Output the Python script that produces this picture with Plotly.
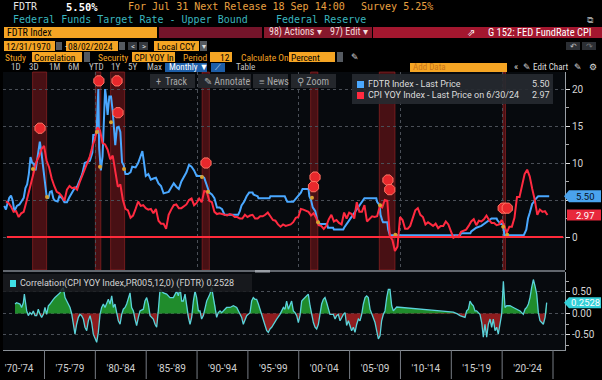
import plotly.graph_objects as go
import numpy as np

# ---------------- DATA ----------------
fdtr_dates = [
    '1971-01','1971-03','1971-05','1971-07','1971-09','1971-11',
    '1972-01','1972-04','1972-07','1972-10','1972-12',
    '1973-02','1973-04','1973-06','1973-08','1973-10','1973-12',
    '1974-02','1974-04','1974-06','1974-07','1974-09','1974-11',
    '1975-01','1975-03','1975-05','1975-07','1975-09','1975-11',
    '1976-01','1976-04','1976-06','1976-09','1976-12',
    '1977-03','1977-06','1977-09','1977-12',
    '1978-03','1978-06','1978-09','1978-12',
    '1979-03','1979-06','1979-09','1979-10','1979-12',
    '1980-02','1980-03','1980-04','1980-05','1980-07','1980-09','1980-11','1980-12',
    '1981-01','1981-03','1981-05','1981-07','1981-09','1981-11','1981-12',
    '1982-02','1982-04','1982-06','1982-07','1982-08','1982-10','1982-12',
    '1983-03','1983-06','1983-08','1983-12',
    '1984-03','1984-06','1984-08','1984-10','1984-12',
    '1985-03','1985-06','1985-09','1985-12',
    '1986-03','1986-06','1986-09','1986-12',
    '1987-03','1987-06','1987-09','1987-12',
    '1988-03','1988-06','1988-09','1988-12',
    '1989-03','1989-06','1989-09','1989-12',
    '1990-06','1990-09','1990-12',
    '1991-03','1991-06','1991-09','1991-12',
    '1992-03','1992-06','1992-09',
    '1994-01','1994-03','1994-05','1994-08','1994-11',
    '1995-02','1995-06','1995-07','1995-12',
    '1996-01','1997-02','1997-03',
    '1998-08','1998-10','1998-11',
    '1999-06','1999-08','1999-11',
    '2000-02','2000-03','2000-05','2000-12',
    '2001-01','2001-03','2001-05','2001-08','2001-10','2001-12',
    '2002-10','2002-11','2003-05','2003-06','2004-05',
    '2004-06','2004-12','2005-06','2005-12','2006-06',
    '2007-08','2007-09','2007-12','2008-01','2008-03','2008-04',
    '2008-09','2008-10','2008-12',
    '2015-11','2015-12','2016-11','2016-12','2017-03','2017-06','2017-12',
    '2018-03','2018-06','2018-09','2018-12','2019-06','2019-07','2019-09','2019-10','2020-02','2020-03',
    '2022-02','2022-03','2022-05','2022-06','2022-07','2022-09','2022-11','2022-12','2023-02','2023-03','2023-05','2023-07','2024-08']
fdtr_vals = [
    4.2,3.7,4.6,5.3,5.6,4.9,
    3.5,4.2,4.4,5.0,5.3,
    6.6,7.1,8.5,10.8,10.0,9.9,
    9.0,10.5,11.9,12.9,11.3,9.5,
    7.1,5.5,5.2,6.1,6.2,5.2,
    4.9,4.8,5.5,5.3,4.7,
    4.7,5.4,6.1,6.6,
    6.8,7.6,8.5,10.0,
    10.1,10.3,11.4,13.8,13.8,
    14.1,17.2,20.0,12.0,9.0,10.9,15.9,20.0,
    19.1,16.5,19.0,19.0,17.0,13.3,12.4,
    14.8,14.9,14.2,12.6,10.1,9.7,8.5,
    8.5,8.75,9.5,9.4,
    10.0,11.0,11.6,10.0,8.25,
    8.5,7.75,7.9,8.0,
    7.25,6.9,5.9,6.0,
    6.1,6.7,7.25,6.8,
    6.5,7.5,8.1,8.75,
    9.75,9.5,9.0,8.25,
    8.25,8.0,7.0,
    6.0,5.75,5.25,4.0,
    4.0,3.75,3.0,
    3.0,3.5,4.25,4.75,5.5,
    6.0,6.0,5.75,5.5,
    5.25,5.25,5.5,
    5.5,5.0,4.75,
    4.75,5.0,5.5,
    5.75,6.0,6.5,6.5,
    5.5,5.0,4.0,3.5,2.5,1.75,
    1.75,1.25,1.25,1.0,1.0,
    1.25,2.25,3.25,4.25,5.25,
    5.25,4.75,4.25,3.0,2.25,2.0,
    2.0,1.0,0.25,
    0.25,0.5,0.5,0.75,1.0,1.25,1.5,
    1.75,2.0,2.25,2.5,2.5,2.25,2.0,1.75,1.75,0.25,
    0.25,0.5,1.0,1.75,2.5,3.25,4.0,4.5,4.75,5.0,5.25,5.5,5.5]

cpi_first_year = 1971  # quarterly readings, Q1 1971 .. Q2 2024
cpi_vals = [
    4.8,4.6,4.1,3.4,  3.5,2.7,3.2,3.4,  4.7,6.0,7.4,8.7,  10.2,10.9,11.9,12.3,
    10.3,9.4,7.9,6.9,  6.1,5.9,5.5,4.9,  6.4,6.9,6.6,6.7,  6.4,7.4,8.3,9.0,
    10.1,10.9,12.2,13.3,  14.8,14.4,12.7,12.5,  11.8,10.5,11.0,8.9,  6.8,7.1,5.0,3.8,
    3.6,2.6,2.9,3.8,  4.8,4.2,4.3,3.9,  3.7,3.8,3.2,3.8,  2.2,1.8,1.8,1.1,
    3.0,3.7,4.3,4.4,  3.9,3.9,4.2,4.4,  5.0,5.2,4.3,4.6,  5.2,4.7,6.2,6.1,
    4.9,4.7,3.4,3.1,  3.2,3.1,3.0,2.9,  3.1,3.0,2.7,2.7,  2.5,2.5,3.0,2.7,
    2.9,3.0,2.5,2.5,  2.8,2.8,3.0,3.3,  2.8,2.3,2.2,1.7,  1.4,1.7,1.5,1.6,
    1.7,2.0,2.6,2.7,  3.8,3.7,3.5,3.4,  2.9,3.2,2.6,1.6,  1.5,1.1,1.5,2.4,
    3.0,2.1,2.3,1.9,  1.7,3.3,2.5,3.3,  3.1,2.5,4.7,3.4,  3.4,4.3,2.1,2.5,
    2.8,2.7,2.8,4.1,  4.0,5.0,4.9,0.1,  -0.4,-1.9,-1.3,2.7,  2.3,1.1,1.1,1.5,
    2.7,3.6,3.9,3.0,  2.7,1.7,2.0,1.7,  1.5,1.8,1.2,1.5,  1.5,2.1,1.7,0.8,
    -0.1,0.1,0.0,0.7,  0.9,1.0,1.5,2.1,  2.4,1.6,2.2,2.1,  2.4,2.9,2.3,1.9,
    1.9,1.6,1.7,2.3,  1.5,0.6,1.4,1.4,  2.6,5.4,5.4,7.0,  8.5,9.1,8.2,6.5,
    5.0,3.0,3.7,3.4,  3.5,2.97]

corr_years = [
    1972.10,1972.26,1972.59,1972.75,1972.92,1973.02,1973.25,1973.41,1973.57,1973.74,
    1973.90,1974.07,1974.23,1974.39,1974.56,1974.72,1974.89,1975.05,1975.21,1975.38,
    1975.54,1975.71,1975.87,1976.03,1976.20,1976.36,1976.52,1976.69,1976.85,1977.02,
    1977.18,1977.51,1977.67,1977.84,1978.00,1978.16,1978.33,1978.49,1978.65,1978.82,
    1978.98,1979.15,1979.31,1979.48,1979.64,1979.80,1979.97,1980.13,1980.29,1980.46,
    1980.62,1980.79,1980.95,1981.11,1981.28,1981.44,1981.61,1981.77,1981.93,1982.10,
    1982.26,1982.43,1982.59,1982.75,1982.92,1983.08,1983.24,1983.41,1983.57,1983.74,
    1983.90,1984.06,1984.23,1984.39,1984.72,1984.88,1985.05,1985.21,1985.38,1985.54,
    1985.70,1985.87,1986.03,1986.19,1986.36,1986.52,1986.69,1987.01,1987.34,1987.67,
    1988.00,1988.16,1988.33,1988.49,1988.65,1988.82,1988.98,1989.15,1989.31,1989.47,
    1989.64,1989.80,1989.96,1990.13,
    1990.29,1990.45,1990.62,1990.78,1990.95,1991.11,1991.27,1991.44,1991.60,1991.77,
    1991.93,1992.09,1992.26,1992.42,1992.58,1992.91,1993.24,1993.57,1993.90,1994.06,
    1994.22,1994.39,1994.55,1994.72,1994.88,1995.04,1995.21,1995.37,1995.53,1995.70,
    1995.86,1996.03,1996.19,1996.35,1996.52,1996.68,1996.85,1997.01,1997.17,1997.34,
    1997.50,1997.67,1997.83,1998.16,1998.32,1998.49,1998.65,1998.81,1998.98,1999.14,
    1999.30,1999.47,1999.63,1999.80,1999.96,2000.12,2000.29,2000.45,2000.62,2000.78,
    2000.94,2001.11,2001.27,2001.44,2001.60,2001.76,2001.93,2002.09,2002.25,2002.42,
    2002.58,2002.75,2002.91,2003.07,2003.40,2003.57,2003.73,2003.89,2004.06,2004.22,
    2004.39,2004.55,2004.71,2004.88,2005.04,2005.20,2005.37,2005.53,2005.70,2005.86,
    2006.02,2006.19,2006.35,2006.52,2006.68,2006.84,2007.01,2007.17,2007.34,2007.50,
    2007.66,2007.83,2007.99,2008.15,2008.32,2008.48,2008.65,2008.81,2008.97,2009.14,
    2009.30,2009.63,2013.89,2015.20,2015.60,2015.86,2016.35,2016.51,2016.68,2016.84,
    2017.00,2017.17,2017.33,2017.49,2017.66,2017.82,2017.99,2018.15,2018.31,2018.48,
    2018.64,2018.81,2018.97,2019.13,2019.30,2019.46,2019.62,2019.79,2019.95,2020.12,
    2020.28,2020.45,2020.77,2021.10,2021.43,2021.76,2021.92,2022.08,2022.25,2022.41,
    2022.58,2022.74,2022.90,2023.07,2023.23,2023.40,2023.56,2023.72,2023.89,2024.05,
    2024.22,2024.38]
corr_vals = [
    0.22,0.25,0.22,0.14,0.25,0.45,0.06,-0.05,0.02,-0.02,
    0.06,-0.05,-0.05,0.10,-0.02,-0.09,-0.02,0.14,-0.02,0.18,
    0.22,0.29,0.33,0.37,0.41,0.45,0.48,0.56,0.60,0.37,
    0.29,0.14,0.00,-0.25,-0.48,-0.25,-0.09,-0.02,-0.05,-0.13,
    -0.32,-0.40,-0.17,-0.05,-0.21,-0.48,-0.59,-0.67,-0.44,-0.02,
    0.14,0.22,0.14,0.25,0.33,0.22,0.41,0.14,0.22,0.02,
    -0.17,-0.25,-0.02,0.10,0.14,0.22,0.37,0.48,0.14,0.06,
    -0.13,-0.28,-0.09,0.06,0.10,0.29,0.37,0.22,-0.05,-0.09,
    -0.13,-0.25,-0.32,0.06,0.56,0.52,0.48,0.45,0.37,0.37,
    0.52,0.41,0.60,0.29,0.29,0.45,0.18,-0.09,-0.25,-0.09,
    0.29,0.52,0.37,0.06,
    0.06,-0.13,-0.05,0.14,0.29,0.37,0.45,0.60,0.37,0.22,
    -0.09,0.02,0.06,0.02,0.06,0.14,0.14,0.18,0.14,0.06,
    -0.02,-0.09,-0.25,-0.13,-0.05,-0.02,0.02,0.29,0.37,0.33,
    0.33,0.22,0.10,-0.02,-0.13,-0.28,-0.40,-0.44,-0.36,-0.32,
    -0.25,-0.21,-0.13,-0.02,0.06,0.14,0.10,0.29,0.10,0.22,
    0.29,0.06,0.02,-0.05,-0.21,-0.05,0.29,0.33,0.37,0.41,
    0.45,0.18,-0.05,-0.21,-0.32,-0.36,-0.25,0.02,0.22,0.33,
    0.37,0.25,0.10,-0.02,-0.02,-0.13,-0.05,-0.02,-0.17,-0.09,
    -0.02,0.02,-0.28,-0.17,-0.28,-0.40,-0.32,-0.44,-0.25,-0.13,
    -0.17,-0.02,0.22,0.37,0.41,0.37,0.10,-0.02,-0.09,-0.21,
    -0.40,-0.59,-0.52,-0.17,-0.02,0.06,0.37,0.56,0.56,0.18,
    0.06,0.15,0.06,0.03,-0.01,-0.05,-0.09,0.06,0.10,0.29,
    0.22,0.18,0.06,0.06,0.02,-0.02,-0.21,-0.55,-0.25,-0.55,
    -0.25,-0.13,-0.32,-0.13,-0.40,-0.32,-0.48,-0.25,-0.02,0.75,
    0.14,0.18,0.18,0.14,0.10,0.06,0.02,-0.02,0.10,0.14,
    0.22,0.37,0.60,0.79,0.64,0.45,0.02,-0.17,-0.21,-0.25,
    -0.09,0.2528]

rec_start = [1973.83, 1980.00, 1981.50, 1990.50, 2001.17, 2007.92, 2020.08]
rec_end   = [1975.21, 1980.54, 1982.88, 1991.21, 2001.88, 2009.46, 2020.33]

event_years = [1974.56, 1980.35, 1982.13, 1982.23, 1990.88, 2001.60, 2001.45, 2008.77, 2008.95, 2020.10, 2020.50]
event_vals  = [14.7, 21.1, 21.1, 16.8, 10.0, 8.1, 6.8, 7.7, 6.4, 3.9, 3.9]
anchor_years = [1973.87, 1975.25, 1980.15, 1980.46, 1981.54, 1982.82, 1990.48, 1991.08, 2001.3, 2001.9, 2008.0, 2009.5, 2020.1, 2020.5]
anchor_vals  = [9.2, 5.4, 14.2, 9.5, 15.5, 9.2, 8.1, 6.1, 5.3, 2.0, 4.3, 0.3, 1.4, 0.3]

period_ticks = [1972.5, 1977.5, 1982.5, 1987.5, 1992.5, 1997.5, 2002.5, 2007.5, 2012.5, 2017.5, 2022.5]
period_labels = ["'70-'74", "'75-'79", "'80-'84", "'85-'89", "'90-'94", "'95-'99",
                 "'00-'04", "'05-'09", "'10-'14", "'15-'19", "'20-'24"]
period_bounds = [1975, 1980, 1985, 1990, 1995, 2000, 2005, 2010, 2015, 2020, 2025]

# ---------------- HELPERS ----------------
W, H = 602, 380
SANS = 'Roboto'
NARROW = 'Liberation Sans Narrow, Roboto Condensed, Roboto'
MONO = 'DejaVu Sans Mono'
ORANGE = '#f5a524'
BLUE = '#4aa8ff'
RED = '#ff2a40'
CYAN = '#5ad3da'

def px(x): return x / W
def py(y): return 1 - y / H

shapes, annotations = [], []

def box(x0, y0, x1, y1, color, layer='above'):
    shapes.append(dict(type='rect', xref='paper', yref='paper', x0=px(x0), x1=px(x1),
                       y0=py(y1), y1=py(y0), fillcolor=color, line=dict(width=0), layer=layer))

def txt(x, y, s, color, size=9.5, family=SANS, anchor='left'):
    annotations.append(dict(xref='paper', yref='paper', x=px(x), y=py(y), text=s, showarrow=False,
                            xanchor=anchor, yanchor='middle', borderpad=0,
                            font=dict(color=color, size=size, family=family)))

def ym(v):  # decimal year from 'YYYY-MM'
    y, m = v.split('-')
    return int(y) + (int(m) - 0.5) / 12

fdtr_x = [ym(d) for d in fdtr_dates]
cpi_x = [cpi_first_year + i // 4 + ((i % 4) * 3 + 2.5) / 12 for i in range(len(cpi_vals))]
cv = np.array(corr_vals)

XR = [1970.92, 2026.18]
MAIN_DOM = [py(270), py(72)]
LOW_DOM = [py(350), py(272)]

fig = go.Figure()

# main panel
fig.add_trace(go.Scatter(x=fdtr_x, y=fdtr_vals, mode='lines', line=dict(color=BLUE, width=2),
                         xaxis='x', yaxis='y', hoverinfo='skip', showlegend=False))
fig.add_trace(go.Scatter(x=cpi_x, y=cpi_vals, mode='lines', line=dict(color=RED, width=2),
                         xaxis='x', yaxis='y', hoverinfo='skip', showlegend=False))
fig.add_trace(go.Scatter(x=anchor_years, y=anchor_vals, mode='markers',
                         marker=dict(color='#d9a030', size=4), xaxis='x', yaxis='y',
                         hoverinfo='skip', showlegend=False))
fig.add_trace(go.Scatter(x=event_years, y=event_vals, mode='markers', cliponaxis=False,
                         marker=dict(symbol='octagon', color='#e8282c', size=11,
                                     line=dict(color='#ff7464', width=1)),
                         xaxis='x', yaxis='y', hoverinfo='skip', showlegend=False))

# lower panel
fig.add_trace(go.Scatter(x=corr_years, y=np.maximum(cv, 0), mode='lines', fill='tozeroy',
                         fillcolor='#208c2c', line=dict(width=0), xaxis='x2', yaxis='y2',
                         hoverinfo='skip', showlegend=False))
fig.add_trace(go.Scatter(x=corr_years, y=np.minimum(cv, 0), mode='lines', fill='tozeroy',
                         fillcolor='#8e1c1e', line=dict(width=0), xaxis='x2', yaxis='y2',
                         hoverinfo='skip', showlegend=False))
fig.add_trace(go.Scatter(x=corr_years, y=corr_vals, mode='lines', line=dict(color=CYAN, width=1.3),
                         xaxis='x2', yaxis='y2', hoverinfo='skip', showlegend=False))

# recession bars
for a, b in zip(rec_start, rec_end):
    shapes.append(dict(type='rect', xref='x', yref='paper', x0=a, x1=b, y0=MAIN_DOM[0], y1=MAIN_DOM[1],
                       fillcolor='rgba(125,22,26,0.55)', line=dict(color='rgba(170,40,40,0.55)', width=1),
                       layer='below'))
# zero reference line
shapes.append(dict(type='line', xref='x', yref='y', x0=1971.3, x1=2026.0, y0=0, y1=0,
                   line=dict(color='#ff2a3a', width=2), layer='above'))
# x separators
for b in period_bounds:
    shapes.append(dict(type='line', xref='x2', yref='paper', x0=b, x1=b, y0=py(379), y1=py(350),
                       line=dict(color='#777c84', width=1)))
# panel divider
shapes.append(dict(type='line', xref='paper', yref='paper', x0=px(3), x1=px(565), y0=py(271), y1=py(271),
                   line=dict(color='#62676e', width=2)))
box(255, 270, 270, 272.5, '#9a9fa6')

# ---------- header ----------
txt(12, 7, 'FDTR', '#e6e6e6', 10, MONO)
txt(65, 7, '<b>5.50%</b>', '#ffffff', 10.5, MONO)
txt(127, 7, 'For Jul 31 Next Release 18 Sep 14:00', '#e9a040', 10, MONO)
txt(360, 7, 'Survey 5.25%', '#e9a040', 10, MONO)
txt(12, 20, 'Federal Funds Target Rate - Upper Bound', '#3ab5be', 10, MONO)
txt(275, 20, 'Federal Reserve', '#3ab5be', 10, MONO)
txt(595, 20, '⧉', '#9a9a9a', 9, SANS, 'right')

box(4, 27, 157, 38, ORANGE)
txt(6, 32.5, 'FDTR Index', '#000000', 10, NARROW)
box(159, 27, 262, 38, '#74142a')
box(264, 27, 372, 38, '#86182c')
box(373, 27, 602, 38, '#a3172f')
txt(268, 32.5, '98) Actions ▾', '#f3dcdc', 10, NARROW)
txt(329, 32.5, '97) Edit ▾', '#f3dcdc', 10, NARROW)
txt(466, 32.5, '⇗', '#ffffff', 9.5)
txt(592, 32.5, 'G 152: FED FundRate CPI', '#ffffff', 10.5, NARROW, 'right')

box(4, 41, 55, 51, ORANGE); txt(5, 46, '12/31/1970', '#000000', 9.5, NARROW)
box(56, 42, 62, 50, '#555a60'); txt(63.5, 46, '-', '#dddddd', 9)
box(66, 41, 118, 51, ORANGE); txt(67, 46, '08/02/2024', '#000000', 9.5, NARROW)
box(119, 42, 125, 50, '#555a60')
box(128, 42, 137, 50, '#34383e'); txt(132.5, 46, '<', '#dddddd', 8, SANS, 'center')
box(139, 42, 148, 50, '#34383e'); txt(143.5, 46, '>', '#dddddd', 8, SANS, 'center')
box(154, 41, 199, 51, ORANGE); txt(156, 46, 'Local CCY', '#000000', 9.5, NARROW)
box(200, 41, 207, 51, '#555a60'); txt(203.5, 46, '▾', '#dddddd', 8, SANS, 'center')
box(566, 42, 580, 50, '#2c2f34'); txt(573, 46, '↶', '#bbbbbb', 8, SANS, 'center')
box(582, 42, 596, 50, '#2c2f34'); txt(589, 46, '↷', '#777777', 8, SANS, 'center')

txt(4, 57, 'Study', ORANGE, 9.5, NARROW)
box(32, 52, 82, 62, ORANGE); txt(33, 57, 'Correlation', '#000000', 9.5, NARROW)
box(84, 52, 90, 62, '#555a60')
txt(97, 57, 'Security', ORANGE, 9.5, NARROW)
box(132, 52, 175, 62, ORANGE); txt(133, 57, 'CPI YOY In', '#000000', 9.5, NARROW)
txt(182, 57, 'Period', ORANGE, 9.5, NARROW)
box(210, 52, 232, 62, ORANGE); txt(231, 57, '12', '#000000', 9.5, NARROW, 'right')
txt(240, 57, 'Calculate On', ORANGE, 9.5, NARROW)
box(289, 52, 335, 62, ORANGE); txt(290, 57, 'Percent', '#000000', 9.5, NARROW)
box(337, 52, 343, 62, '#555a60')
txt(350, 57, '✎', '#dddddd', 9)

for lab, xx in zip(['1D', '3D', '1M', '6M', 'YTD', '1Y', '5Y', 'Max'], [10, 28, 48, 67, 88, 110, 127, 146]):
    txt(xx, 67.5, lab, '#c4c4c4', 9, NARROW)
box(165, 63, 207, 72, '#1d5ea8'); txt(168, 67.5, 'Monthly ▼', '#ffffff', 9, NARROW)
box(211, 63, 225, 72, '#1d5ea8'); txt(218, 67.5, '⟋', '#cfe3ff', 8, SANS, 'center')
txt(235, 67.5, 'Table', '#c4c4c4', 9, NARROW)
box(410, 63, 507, 72, ORANGE); txt(412, 67.5, 'Add Data', '#c9741a', 9, NARROW)
txt(513, 67.5, '«', '#dddddd', 9)
txt(522, 67.5, '✎ Edit Chart', '#dddddd', 9, NARROW)
txt(573, 67.5, '✎', '#dddddd', 8.5)
txt(588, 67.5, '⚙', '#dddddd', 9)

# toolbar overlay
for (x0, x1, lab) in [(150, 195, '+  Track'), (198, 251, '✎ Annotate'), (253, 288, '≡ News'), (291, 336, '⚲ Zoom')]:
    box(x0, 74, x1, 88, '#24272c')
    txt(x0 + 5, 81, lab, '#a9a9a9', 10, NARROW)

# main legend
box(352, 74, 553, 104, 'rgba(38,42,48,0.92)')
box(357, 81, 364, 88, BLUE)
txt(367, 84.5, 'FDTR Index - Last Price', '#dcdcdc', 9)
txt(551, 84.5, '5.50', '#dcdcdc', 9, SANS, 'right')
box(357, 92, 364, 99, RED)
txt(367, 95.5, 'CPI YOY Index - Last Price on 6/30/24', '#dcdcdc', 9)
txt(551, 95.5, '2.97', '#dcdcdc', 9, SANS, 'right')

# lower legend
box(3, 274, 252, 292, 'rgba(26,28,32,0.85)')
box(10, 280, 16, 287, '#3fe0e6')
txt(19, 283.5, 'Correlation(CPI YOY Index,PR005,12,0) (FDTR) 0.2528', '#d4d4d4', 9)

# value tags on right axis
def tag(yc, h, color, label, tcolor, pointed=True):
    y0, y1 = yc - h / 2, yc + h / 2
    if pointed:
        path = 'M {} {} L {} {} L {} {} L {} {} L {} {} Z'.format(
            px(564), py(yc), px(569), py(y0), px(601), py(y0), px(601), py(y1), px(569), py(y1))
    else:
        path = 'M {} {} L {} {} L {} {} L {} {} Z'.format(
            px(567), py(y0), px(601), py(y0), px(601), py(y1), px(567), py(y1))
    shapes.append(dict(type='path', xref='paper', yref='paper', path=path, fillcolor=color,
                       line=dict(width=0), layer='above'))
    txt(585, yc, label, tcolor, 9.5, SANS, 'center')

tag(237 - 5.5 * 7.4, 12, '#4aa3ee', '5.50', '#06121f')
tag(237 - 2.97 * 7.4, 11, '#e8283c', '2.97', '#ffffff', pointed=False)
tag(313.5 - 0.2528 * 43, 11, '#33cfd8', '0.2528', '#ffffff')

axis_common = dict(showgrid=True, gridcolor='#4a4f57', griddash='dot', gridwidth=1, zeroline=False,
                   showline=True, linecolor='#9aa0a6', linewidth=1)

fig.update_layout(
    width=W, height=H, autosize=False,
    margin=dict(l=0, r=0, t=0, b=0, pad=0),
    paper_bgcolor='#000000', plot_bgcolor='#070a0e',
    showlegend=False,
    xaxis=dict(domain=[px(3), px(565)], range=XR, anchor='y', showticklabels=False,
               tickvals=[1980, 1990, 2000, 2010, 2020], ticks='', showgrid=True,
               gridcolor='#4a4f57', griddash='dot', zeroline=False, showline=False),
    yaxis=dict(domain=MAIN_DOM, range=[-4.46, 22.3], side='right', anchor='x',
               tickvals=[0, 5, 10, 15, 20], ticktext=['0', '', '10', '15', '20'],
               ticks='outside', ticklen=4, tickcolor='#e0e0e0',
               tickfont=dict(color='#d4d4d4', size=10, family=SANS),
               minor=dict(tickvals=[2.5, 7.5, 12.5, 17.5], ticks='outside', ticklen=3,
                          tickcolor='#aaaaaa', showgrid=False),
               **axis_common),
    xaxis2=dict(domain=[px(3), px(565)], range=XR, anchor='y2', tickvals=period_ticks,
                ticktext=period_labels, ticks='', ticklabelstandoff=9,
                tickfont=dict(color='#cfcfcf', size=10, family=SANS),
                showgrid=False, zeroline=False, showline=True, linecolor='#8a9096', linewidth=1),
    yaxis2=dict(domain=LOW_DOM, range=[-0.849, 0.965], side='right', anchor='x2',
                tickvals=[0.5, 0, -0.5], ticktext=['0.50', '0.00', '-0.50'],
                ticks='outside', ticklen=4, tickcolor='#e0e0e0',
                tickfont=dict(color='#d4d4d4', size=10, family=SANS),
                minor=dict(tickvals=[0.75, 0.25, -0.25, -0.75], ticks='outside', ticklen=3,
                           tickcolor='#aaaaaa', showgrid=False),
                **axis_common),
    shapes=shapes, annotations=annotations,
)

fig.write_html("out.html", config={'displayModeBar': False},
               post_script="document.body.style.margin='0';document.body.style.overflow='hidden';")
